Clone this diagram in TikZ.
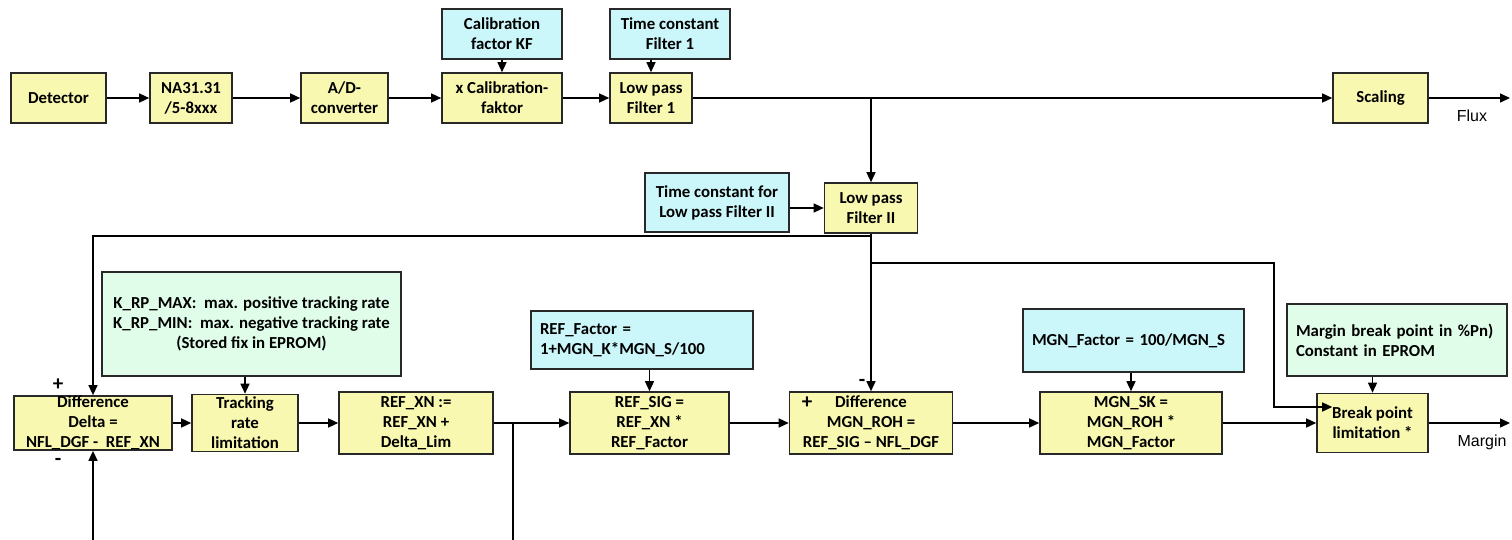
\documentclass[tikz,border=0pt]{standalone}
\usepackage{fontspec}
\setmainfont{Carlito}
\newfontfamily\labelfont{Liberation Sans}
\usetikzlibrary{arrows.meta, positioning}
\definecolor{boxyellow}{RGB}{248, 248, 176}
\definecolor{boxcyan}{RGB}{204, 247, 250}
\definecolor{boxmint}{RGB}{224, 253, 234}
\definecolor{edgegray}{RGB}{40, 40, 40}

\begin{document}
\begin{tikzpicture}[x=1pt, y=-1pt,
  blk/.style={draw=edgegray, line width=1.6pt, fill=boxyellow, align=center,
    inner sep=0pt, font=\fontsize{16.8}{20}\selectfont\bfseries},
  parm/.style={blk, fill=boxcyan},
  fixparm/.style={blk, fill=boxmint},
  sig/.style={line width=1.4pt, -{Triangle[length=10pt, width=9pt]}},
  wire/.style={line width=1.4pt},
  sign/.style={font=\fontsize{21}{21}\selectfont\bfseries, inner sep=0pt},
  outlbl/.style={font=\labelfont\fontsize{16}{20}\selectfont}]
  \useasboundingbox (0,0) rectangle (1512,540);

  % Flux path
  \node[blk, minimum width=95pt, minimum height=50pt] (det) at (58.5,98) {Detector};
  \node[blk, minimum width=82pt, minimum height=50pt] (na) at (191,98) {NA31.31\\/5-8xxx};
  \node[blk, minimum width=87pt, minimum height=50pt] (adc) at (344.5,98) {A/D-\\converter};
  \node[blk, minimum width=120pt, minimum height=50pt] (calx) at (502,98) {x Calibration-\\faktor};
  \node[blk, minimum width=82pt, minimum height=50pt] (lp1) at (651,98) {Low pass\\Filter 1};
  \node[blk, minimum width=95pt, minimum height=50pt] (scal) at (1380.5,98) {Scaling};
  \node[parm, minimum width=120pt, minimum height=50pt] (cal) at (502,34) {Calibration\\factor KF};
  \node[parm, minimum width=120pt, minimum height=50pt] (tc1) at (670,34) {Time constant\\Filter 1};
  \node[outlbl] (flux) at (1472,116) {Flux};

  % Second filter
  \node[blk, minimum width=93pt, minimum height=50pt] (lp2) at (871,208) {Low pass\\Filter II};
  \node[parm, minimum width=144pt, minimum height=59pt] (tc2) at (717,202.5) {Time constant for\\Low pass Filter II};

  % Margin path
  \node[blk, minimum width=158pt, minimum height=54pt] (diffd) at (93,423) {Difference\\Delta =\\NFL\_DGF - \ REF\_XN};
  \node[blk, minimum width=106pt, minimum height=57pt] (track) at (245,423) {Tracking\\rate\\limitation};
  \node[blk, minimum width=154pt, minimum height=62pt] (refxn) at (416,423) {REF\_XN :=\\REF\_XN +\\Delta\_Lim};
  \node[blk, minimum width=159pt, minimum height=62pt] (refsig) at (649.5,423) {REF\_SIG =\\REF\_XN *\\REF\_Factor};
  \node[blk, minimum width=163pt, minimum height=62pt] (diffm) at (871,423) {Difference\\MGN\_ROH =\\REF\_SIG -- NFL\_DGF};
  \node[blk, minimum width=182pt, minimum height=62pt] (mgnsk) at (1131,423) {MGN\_SK =\\MGN\_ROH *\\MGN\_Factor};
  \node[blk, minimum width=111pt, minimum height=59pt] (bpl) at (1372.5,423) {Break point\\limitation *};
  \node[fixparm, minimum width=299pt, minimum height=104pt] (kmax) at (251.5,324)
    {K\_RP\_MAX: \ max. positive tracking rate\\K\_RP\_MIN: \ max. negative tracking rate\\(Stored fix in EPROM)};
  \node[parm, align=left, text width=204pt, inner xsep=9pt, minimum height=58pt] (reff) at (642,340)
    {REF\_Factor =\\1+MGN\_K*MGN\_S/100};
  \node[parm, align=left, text width=203pt, inner xsep=9pt, minimum height=63pt] (mgnf) at (1133.5,340.5)
    {MGN\_Factor = 100/MGN\_S};
  \node[fixparm, align=left, text width=202pt, inner xsep=9pt, minimum height=72pt] (mbp) at (1397,340)
    {Margin break point in \%Pn)\\Constant in EPROM};
  \node[outlbl] (margin) at (1482,442) {Margin};

  % Signs
  \node[sign] (dplus) at (58,385) {+};
  \node[sign] (dminus) at (58,462) {-};
  \node[sign] (mminus) at (862,383) {-};
  \node[sign] (mplus) at (807,403) {+};

  % Junctions
  \coordinate (jf) at (871,98);
  \coordinate (fluxend) at (1510,98);
  \coordinate (j1) at (871,236);
  \coordinate (j2) at (871,263);
  \coordinate (j3) at (1274,407);
  \coordinate (jt) at (513,423);
  \coordinate (tap) at (513,540);
  \coordinate (fbk) at (93,540);
  \coordinate (mgnend) at (1510,423);

  % Connectors
  \draw[sig] (det) -- (na);
  \draw[sig] (na) -- (adc);
  \draw[sig] (adc) -- (calx);
  \draw[sig] (calx) -- (lp1);
  \draw[sig] (cal) -- (calx);
  \draw[sig] (tc1.south -| lp1) -- (lp1);
  \draw[sig] (lp1) -- (scal);
  \draw[sig] (scal) -- (fluxend);
  \draw[sig] (jf) -- (lp2);
  \draw[sig] (tc2.east |- lp2) -- (lp2);
  \draw[sig] (lp2) -- (diffm);
  \draw[sig] (j1) -| (diffd.north);
  \draw[sig] (j2) -| (j3) -- ([xshift=16pt]bpl.west |- j3);
  \draw[sig] (diffd) -- (track);
  \draw[sig] (kmax.south -| track) -- (track);
  \draw[sig] (track) -- (refxn);
  \draw[sig] (refxn) -- (refsig);
  \draw[wire] (jt) -- (tap);
  \draw[sig] (fbk) -- (diffd);
  \draw[sig] (reff.south -| refsig) -- (refsig);
  \draw[sig] (refsig) -- (diffm);
  \draw[sig] (diffm) -- (mgnsk);
  \draw[sig] (mgnf.south -| mgnsk) -- (mgnsk);
  \draw[sig] (mgnsk) -- (bpl);
  \draw[sig] (mbp.south -| bpl) -- (bpl);
  \draw[sig] (bpl) -- (mgnend);
\end{tikzpicture}
\end{document}
